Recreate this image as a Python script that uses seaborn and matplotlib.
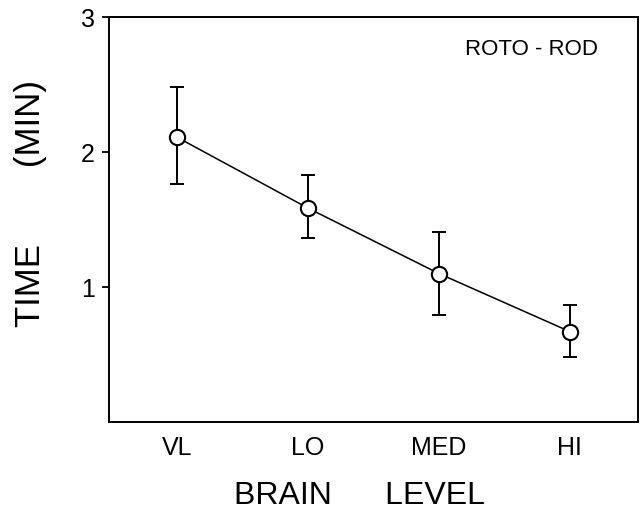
import matplotlib
matplotlib.use("Agg")
import matplotlib.pyplot as plt
import seaborn as sns
import pandas as pd
import numpy as np

levels = ["VL", "LO", "MED", "HI"]
time_min = [2.11, 1.585, 1.10, 0.67]
err_upper = [2.48, 1.83, 1.41, 0.87]
err_lower = [1.76, 1.36, 0.79, 0.48]
y_ticks = [1, 2, 3]

sns.set_theme(style="white")
plt.rcParams['font.family'] = ['Liberation Sans', 'DejaVu Sans']
plt.rcParams['text.color'] = 'black'
plt.rcParams['axes.labelcolor'] = 'black'
plt.rcParams['xtick.color'] = 'black'
plt.rcParams['ytick.color'] = 'black'

df = pd.DataFrame({"pos": np.arange(len(levels)), "level": levels, "time": time_min})

fig = plt.figure(figsize=(6.43, 5.20), dpi=100)
ax = fig.add_axes([0.1695, 0.1885, 0.8225, 0.7785])

yerr = [np.array(time_min) - np.array(err_lower), np.array(err_upper) - np.array(time_min)]
ax.errorbar(df["pos"], df["time"], yerr=yerr, fmt="none", ecolor="black",
            elinewidth=1.4, capsize=5, capthick=1.4, zorder=2)
sns.lineplot(data=df, x="pos", y="time", ax=ax, color="black", linewidth=1.1,
             marker="o", markersize=11, markerfacecolor="white",
             markeredgecolor="black", markeredgewidth=1.5, zorder=3)

ax.set_xlim(-0.52, 3.52)
ax.set_ylim(0, 3)
ax.set_xticks(df["pos"])
ax.set_xticklabels(levels, fontsize=18)
ax.set_yticks(y_ticks)
ax.set_yticklabels([str(t) for t in y_ticks], fontsize=18)
ax.tick_params(axis="x", length=0, pad=10, labelcolor="black")
ax.tick_params(axis="y", direction="out", length=5, width=1.3, color="black", pad=5,
               left=True, labelcolor="black")

for sp in ax.spines.values():
    sp.set_visible(True)
    sp.set_color("black")
    sp.set_linewidth(1.4)

ax.set_xlabel("BRAIN      LEVEL", fontsize=23, color="black")
ax.xaxis.set_label_coords(0.474, -0.146)
ax.set_ylabel("TIME        (MIN)", fontsize=25, color="black")
ax.yaxis.set_label_coords(-0.118, 0.54)
ax.text(0.798, 0.921, "ROTO - ROD", transform=ax.transAxes, ha="center", va="center",
        fontsize=16, color="black")

fig.savefig("out.png", dpi=100, facecolor="white")
